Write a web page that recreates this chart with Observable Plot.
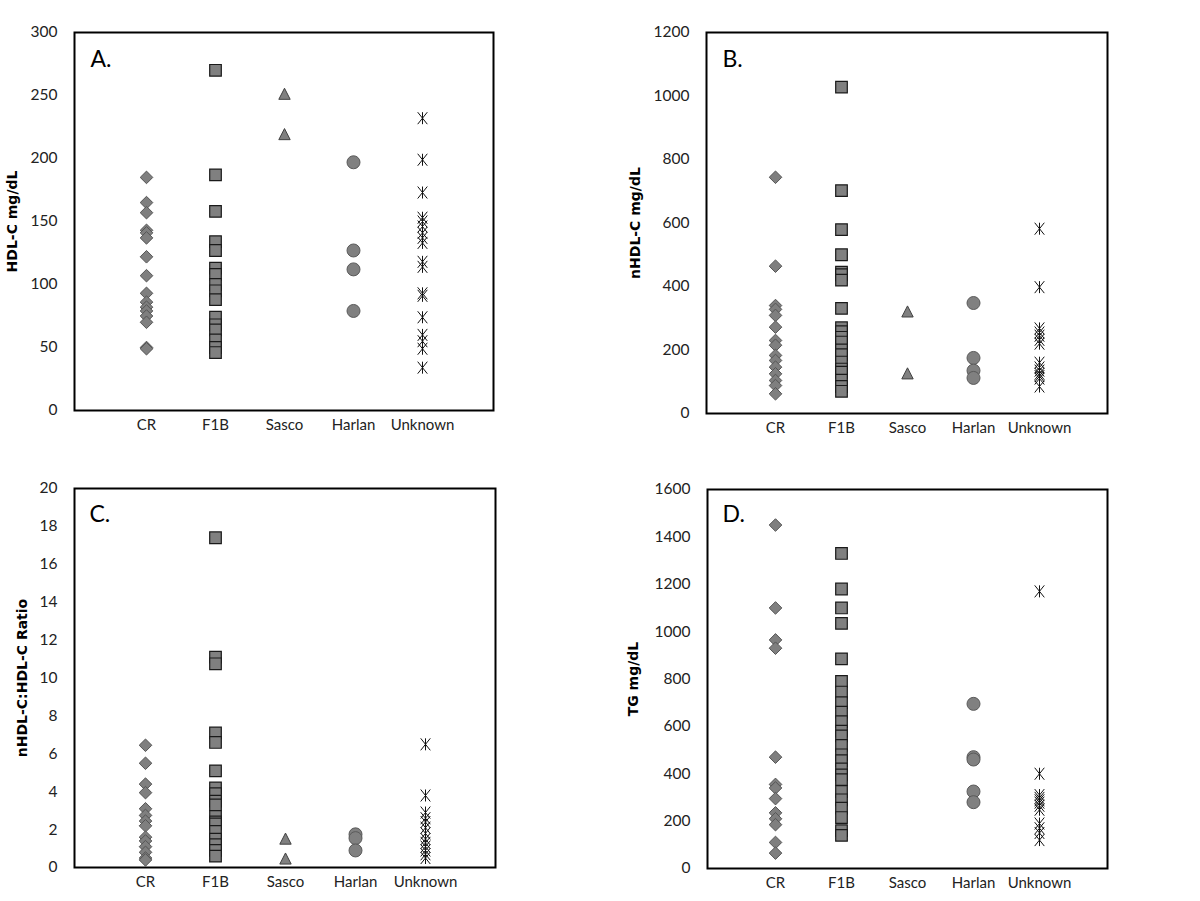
<!DOCTYPE html>
<html><head><meta charset="utf-8">
<script src="https://cdn.jsdelivr.net/npm/d3@7"></script>
<script src="https://cdn.jsdelivr.net/npm/@observablehq/plot@0.6"></script>
<style>
body{margin:0;background:#fff;}
#wrap{position:relative;width:1200px;height:901px;overflow:hidden;background:#fff;font-family:Lato,sans-serif;}
.panel{position:absolute;}
</style></head><body><div id="wrap"></div>
<script>
const categories = ["CR","F1B","Sasco","Harlan","Unknown"];

// Panel A: HDL-C mg/dL
const hdlCR = [185,165,157,143,141,137,122,107,93,86,82,79,75,70,50,49];
const hdlF1B = [270,187,158,134,127,113,108,100,95,88,74,68,64,56,50,46];
const hdlSasco = [251,219];
const hdlHarlan = [197,127,112,79];
const hdlUnknown = [232,199,173,153,150,146,141,137,133,118,114,93,91,74,60,55,49,34];

// Panel B: nHDL-C mg/dL
const nhdlCR = [744,464,340,328,309,272,230,215,183,167,146,125,104,88,62];
const nhdlF1B = [1028,702,579,500,445,437,420,331,270,258,240,225,200,185,162,140,130,105,85,70];
const nhdlSasco = [320,125];
const nhdlHarlan = [348,175,135,112];
const nhdlUnknown = [582,398,268,255,245,232,220,160,145,135,125,118,110,85];

// Panel C: nHDL-C:HDL-C ratio
const ratioCR = [6.45,5.5,4.4,3.95,3.1,2.75,2.45,2.2,1.6,1.4,1.1,0.8,0.5,0.4];
const ratioF1B = [17.4,11.1,10.75,7.1,6.6,5.1,4.2,3.9,3.5,3.3,2.7,2.4,2.3,1.9,1.5,1.2,0.9,0.6];
const ratioSasco = [1.5,0.45];
const ratioHarlan = [1.75,1.55,0.9];
const ratioUnknown = [6.5,3.8,2.9,2.6,2.4,2.1,1.8,1.5,1.3,1.1,0.9,0.7,0.5];

// Panel D: TG mg/dL
const tgCR = [1450,1100,965,930,470,355,340,295,235,210,185,110,65];
const tgF1B = [1330,1180,1100,1035,885,790,745,700,660,620,580,560,520,480,455,420,395,375,325,290,255,215,160,140];
const tgSasco = [];
const tgHarlan = [695,470,460,325,280];
const tgUnknown = [1170,400,310,298,288,278,265,248,190,170,150,120];

const ticksA = [0,50,100,150,200,250,300];
const ticksB = [0,200,400,600,800,1000,1200];
const ticksC = [0,2,4,6,8,10,12,14,16,18,20];
const ticksD = [0,200,400,600,800,1000,1200,1400,1600];

// marker symbols (Excel-like)
const rOf = size => Math.sqrt(size / Math.PI);
const diamond = {draw(c, s){const r=rOf(s); c.moveTo(0,-r); c.lineTo(r,0); c.lineTo(0,r); c.lineTo(-r,0); c.closePath();}};
const square = {draw(c, s){const r=rOf(s); c.moveTo(-r,-r); c.lineTo(r,-r); c.lineTo(r,r); c.lineTo(-r,r); c.closePath();}};
const triangle = {draw(c, s){const r=rOf(s); c.moveTo(0,-r); c.lineTo(r*0.95,r*0.85); c.lineTo(-r*0.95,r*0.85); c.closePath();}};
const star = {draw(c, s){const r=rOf(s); c.moveTo(0,-r); c.lineTo(0,r); c.moveTo(-0.8*r,-r); c.lineTo(0.8*r,r); c.moveTo(0.8*r,-r); c.lineTo(-0.8*r,r);}};

const styles = {
  CR: {symbol: diamond, r: 6.3, fill: "#7f7f7f", stroke: "#555", strokeWidth: 1},
  F1B: {symbol: square, r: 5.8, fill: "#808080", stroke: "#1a1a1a", strokeWidth: 1.2},
  Sasco: {symbol: triangle, r: 6, fill: "#808080", stroke: "#404040", strokeWidth: 1},
  Harlan: {symbol: "circle", r: 6.5, fill: "#808080", stroke: "#5a5a5a", strokeWidth: 1},
  Unknown: {symbol: star, r: 6, fill: "none", stroke: "#111", strokeWidth: 1}
};

const panels = [
  {letter:"A.", title:"HDL-C mg/dL", left:0, top:0, height:450, domain:[0,300], ticks:ticksA,
   series:{CR:hdlCR, F1B:hdlF1B, Sasco:hdlSasco, Harlan:hdlHarlan, Unknown:hdlUnknown},
   m:{l:74, r:107, t:32, b:40}, titleDx:-62, ldx:16, ldy:18},
  {letter:"B.", title:"nHDL-C mg/dL", left:600, top:0, height:450, domain:[0,1200], ticks:ticksB,
   series:{CR:nhdlCR, F1B:nhdlF1B, Sasco:nhdlSasco, Harlan:nhdlHarlan, Unknown:nhdlUnknown},
   m:{l:106, r:93, t:32, b:37}, titleDx:-71, ldx:16, ldy:18},
  {letter:"C.", title:"nHDL-C:HDL-C Ratio", left:0, top:450, height:451, domain:[0,20], ticks:ticksC,
   series:{CR:ratioCR, F1B:ratioF1B, Sasco:ratioSasco, Harlan:ratioHarlan, Unknown:ratioUnknown},
   m:{l:74, r:105, t:38, b:34}, titleDx:-52, ldx:15, ldy:17},
  {letter:"D.", title:"TG mg/dL", left:600, top:450, height:451, domain:[0,1600], ticks:ticksD,
   series:{CR:tgCR, F1B:tgF1B, Sasco:tgSasco, Harlan:tgHarlan, Unknown:tgUnknown},
   m:{l:107, r:93, t:39, b:33}, titleDx:-74, ldx:15, ldy:16}
];

const wrap = document.getElementById("wrap");
for (const p of panels) {
  const marks = [];
  for (const c of categories) {
    const rows = p.series[c].map(v => ({cat: c, v}));
    marks.push(Plot.dot(rows, {x: "cat", y: "v", ...styles[c]}));
  }
  marks.push(Plot.frame({stroke: "#000", strokeWidth: 2}));
  marks.push(Plot.axisX({tickSize: 0, tickPadding: 9, fontSize: 15, label: null}));
  marks.push(Plot.axisY({ticks: p.ticks, tickSize: 0, tickPadding: 17, fontSize: 15.5, label: null, tickFormat: d => String(d)}));
  marks.push(Plot.text([p.title], {text: d => d, frameAnchor: "left", dx: p.titleDx, rotate: -90, textAnchor: "middle", lineAnchor: "middle", fontFamily: "DejaVu Sans", fontWeight: "bold", fontSize: 14, fill: "#000"}));
  marks.push(Plot.text([p.letter], {text: d => d, frameAnchor: "top-left", dx: p.ldx, dy: p.ldy, textAnchor: "start", lineAnchor: "top", fontSize: 23, fill: "#000"}));
  const svg = Plot.plot({
    width: 600, height: p.height,
    marginLeft: p.m.l, marginRight: p.m.r, marginTop: p.m.t, marginBottom: p.m.b,
    style: {fontFamily: "Lato, sans-serif", fontSize: "15px", color: "#222", background: "#fff"},
    x: {type: "point", domain: categories, padding: 1},
    y: {domain: p.domain},
    marks
  });
  svg.classList.add("panel");
  svg.style.left = p.left + "px";
  svg.style.top = p.top + "px";
  wrap.appendChild(svg);
}
</script></body></html>
